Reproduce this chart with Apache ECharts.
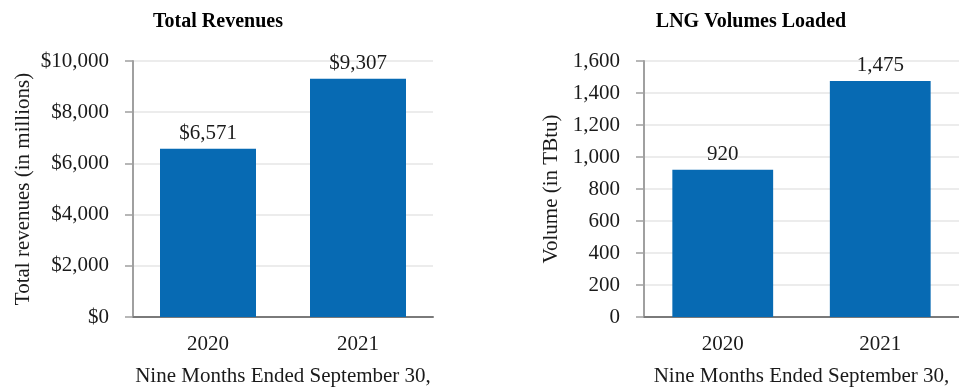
<!DOCTYPE html>
<html>
<head>
<meta charset="utf-8">
<script src="https://cdn.jsdelivr.net/npm/echarts@6/dist/echarts.min.js"></script>
<style>
  html, body { margin: 0; padding: 0; background: #fff; }
  #chart { width: 959px; height: 392px; }
</style>
</head>
<body>
<div id="chart"></div>
<script>
// Nine-month comparison: revenues and LNG volumes loaded
const years = ['2020', '2021'];
const revenues = [6571, 9307];        // $ millions
const volumes = [920, 1475];          // TBtu

const revTitle = 'Total Revenues';
const volTitle = 'LNG Volumes Loaded';
const revAxisName = 'Total revenues (in millions)';
const volAxisName = 'Volume (in TBtu)';
const periodName = 'Nine Months Ended September 30,';

const FONT = '"Liberation Serif", "Times New Roman", serif';
const TEXT = '#1a1a1a';
const BAR = '#076ab3';
const FS = 21;

const fmt = v => Number(v).toLocaleString('en-US');

function xAxisFor(gridIndex) {
  return {
    type: 'category',
    gridIndex,
    data: years,
    name: periodName,
    nameLocation: 'middle',
    nameGap: 49,
    nameTextStyle: { fontFamily: FONT, fontSize: FS, color: TEXT },
    axisLine: { lineStyle: { color: '#7a7a7a', width: 2 } },
    axisTick: { alignWithLabel: true, length: 7, lineStyle: { color: '#8a8a8a', width: 1.5 } },
    axisLabel: { fontFamily: FONT, fontSize: FS, color: TEXT, margin: 17 }
  };
}

function yAxisFor(gridIndex, max, interval, name, gap, prefix) {
  return {
    type: 'value',
    gridIndex,
    min: 0,
    max,
    interval,
    name,
    nameLocation: 'middle',
    nameGap: gap,
    nameTextStyle: { fontFamily: FONT, fontSize: FS, color: TEXT },
    axisLine: { show: true, lineStyle: { color: '#a0a0a0', width: 2 } },
    axisTick: { show: true, length: 8, lineStyle: { color: '#a0a0a0', width: 1.5 } },
    splitLine: { lineStyle: { color: '#e6e6e6', width: 1.5 } },
    axisLabel: {
      fontFamily: FONT, fontSize: FS, color: TEXT, margin: 24,
      formatter: v => prefix + fmt(v)
    }
  };
}

function barSeries(idx, data, prefix) {
  return {
    type: 'bar',
    xAxisIndex: idx,
    yAxisIndex: idx,
    data,
    barWidth: '64%',
    itemStyle: { color: BAR },
    label: {
      show: true,
      position: 'top',
      distance: 5,
      fontFamily: FONT,
      fontSize: FS,
      color: TEXT,
      formatter: p => prefix + fmt(p.value)
    }
  };
}

const chart = echarts.init(document.getElementById('chart'), null, { renderer: 'canvas' });
chart.setOption({
  animation: false,
  backgroundColor: '#fff',
  graphic: [
    { type: 'text', x: 218, y: 22, style: { text: revTitle, font: 'bold 20px ' + FONT, fill: '#000', textAlign: 'center', textVerticalAlign: 'middle' } },
    { type: 'text', x: 751, y: 22, style: { text: volTitle, font: 'bold 20px ' + FONT, fill: '#000', textAlign: 'center', textVerticalAlign: 'middle' } }
  ],
  grid: [
    { left: 133, top: 61, width: 300, height: 262 },
    { left: 644, top: 61, width: 322, height: 262 }
  ],
  xAxis: [xAxisFor(0), xAxisFor(1)],
  yAxis: [
    yAxisFor(0, 10000, 2000, revAxisName, 99, '$'),
    yAxisFor(1, 1600, 200, volAxisName, 82, '')
  ],
  series: [
    barSeries(0, revenues, '$'),
    barSeries(1, volumes, '')
  ]
});
</script>
</body>
</html>
